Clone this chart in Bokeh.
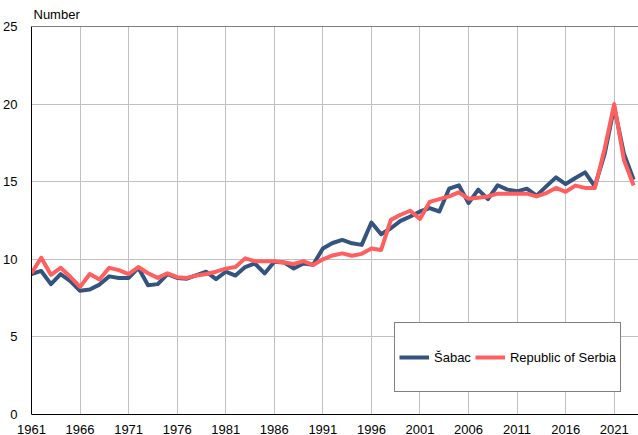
from bokeh.plotting import figure
from bokeh.models import Range1d, Legend, LegendItem, Span, FixedTicker, Title
from bokeh.embed import file_html
from bokeh.resources import INLINE

years = list(range(1961, 2024))
sabac = [9.05, 9.25, 8.4, 9.05, 8.6, 7.97, 8.05, 8.37, 8.9, 8.8,
         8.8, 9.45, 8.33, 8.4, 9.05, 8.8, 8.75, 8.98, 9.2, 8.72,
         9.2, 8.95, 9.5, 9.73, 9.09, 9.84, 9.8, 9.41, 9.73, 9.65,
         10.7, 11.05, 11.25, 11.03, 10.93, 12.37, 11.61, 12.0, 12.48, 12.76,
         13.08, 13.3, 13.08, 14.55, 14.77, 13.62, 14.49, 13.88, 14.77, 14.49,
         14.38, 14.55, 14.1, 14.7, 15.28, 14.85, 15.24, 15.6, 14.7, 16.75,
         19.8, 16.8, 15.13]
serbia = [9.1, 10.1, 9.0, 9.45, 8.87, 8.22, 9.05, 8.7, 9.45, 9.3,
          9.05, 9.5, 9.1, 8.8, 9.1, 8.85, 8.8, 8.95, 9.05, 9.2,
          9.4, 9.5, 10.06, 9.88, 9.88, 9.88, 9.8, 9.7, 9.88, 9.63,
          10.0, 10.25, 10.38, 10.23, 10.35, 10.7, 10.6, 12.54, 12.87, 13.13,
          12.6, 13.7, 13.88, 14.05, 14.31, 13.9, 13.97, 14.05, 14.23, 14.23,
          14.23, 14.23, 14.05, 14.27, 14.6, 14.35, 14.75, 14.6, 14.6, 17.08,
          20.0, 16.4, 14.75]
x_ticks = list(range(1961, 2022, 5))
y_ticks = [0, 5, 10, 15, 20, 25]

FONT = "Liberation Sans"
BLUE = "#34537f"
RED = "#ff5f5f"

p = figure(width=638, height=437, output_backend="svg", toolbar_location=None,
           x_range=Range1d(1961, 2023.5), y_range=Range1d(0, 25),
           min_border_left=26, min_border_right=0, min_border_top=26,
           min_border_bottom=23)
p.title = Title(text="Number", align="left", offset=2, standoff=9,
                text_font=FONT, text_font_size="13px", text_font_style="normal",
                text_color="black")
p.outline_line_color = None
p.background_fill_color = "white"
p.border_fill_color = "white"

for ax in (p.xaxis[0], p.yaxis[0]):
    ax.axis_line_color = "black"
    ax.axis_line_width = 1
    ax.major_tick_line_color = None
    ax.minor_tick_line_color = None
    ax.major_label_text_font = FONT
    ax.major_label_text_font_size = "13px"
    ax.major_label_text_color = "black"
p.xaxis[0].major_label_standoff = 4
p.yaxis[0].major_label_standoff = 8

p.xaxis[0].ticker = FixedTicker(ticks=x_ticks)
p.yaxis[0].ticker = FixedTicker(ticks=y_ticks)

p.xgrid.ticker = FixedTicker(ticks=x_ticks)
p.ygrid.ticker = FixedTicker(ticks=y_ticks)
p.xgrid.grid_line_color = "#c0c0c0"
p.ygrid.grid_line_color = "#c0c0c0"
p.xgrid.grid_line_width = 1
p.ygrid.grid_line_width = 1

p.add_layout(Span(location=25, dimension="width", line_color="black", line_width=1))

r1 = p.line(years, sabac, line_color=BLUE, line_width=4, line_join="round")
r2 = p.line(years, serbia, line_color=RED, line_width=4, line_join="round")

legend = Legend(items=[LegendItem(label="Šabac", renderers=[r1]),
                       LegendItem(label="Republic of Serbia", renderers=[r2])],
                orientation="horizontal", location=(363, 22),
                padding=4, spacing=4, margin=0,
                glyph_width=30, glyph_height=60, label_height=60,
                label_standoff=5, label_text_font=FONT,
                label_text_font_size="13px", label_text_color="black",
                border_line_color="black", border_line_width=1,
                background_fill_color="white", background_fill_alpha=1)
p.add_layout(legend, "center")

open("out.html", "w").write(file_html(p, INLINE))
